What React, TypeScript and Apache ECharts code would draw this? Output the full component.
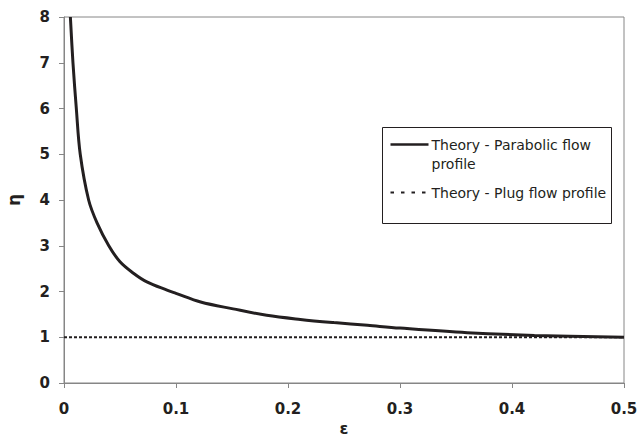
import React, { useEffect, useRef } from "react";
import * as echarts from "echarts";

const FONT = "DejaVu Sans, Verdana, sans-serif";
const TEXT = "#231f20";
const AXIS = "#868686";

const seriesNames = ["Theory - Parabolic flow profile", "Theory - Plug flow profile"];
const legendLabels = ["Theory - Parabolic flow\nprofile", "Theory - Plug flow profile"];

const epsilon = [0.0057, 0.008, 0.011, 0.0145, 0.022, 0.0295, 0.04, 0.05, 0.062, 0.074, 0.092, 0.1, 0.122, 0.151, 0.181, 0.211, 0.241, 0.271, 0.3, 0.36, 0.42, 0.5];
const etaParabolic = [8, 7, 6, 5, 4, 3.5, 3, 2.65, 2.4, 2.21, 2.03, 1.96, 1.77, 1.62, 1.48, 1.39, 1.32, 1.26, 1.2, 1.1, 1.04, 1.0];

const epsilonPlug = [0, 0.5];
const etaPlug = [1, 1];

const xTicks = { min: 0, max: 0.5, interval: 0.1 };
const yTicks = { min: 0, max: 8, interval: 1 };

export default function App() {
  const ref = useRef<HTMLDivElement>(null);

  useEffect(() => {
    if (!ref.current) return;
    const chart = echarts.init(ref.current, undefined, { renderer: "svg" });
    const labelStyle = { color: TEXT, fontFamily: FONT, fontWeight: "bold" as const, fontSize: 15 };
    chart.setOption({
      animation: false,
      backgroundColor: "#ffffff",
      grid: {
        left: 64,
        right: 16,
        top: 17,
        bottom: 55,
        show: true,
        borderColor: AXIS,
        borderWidth: 1,
        containLabel: false,
        outerBoundsMode: "none",
      },
      xAxis: {
        type: "value",
        ...xTicks,
        name: "ε",
        nameLocation: "middle",
        nameGap: 37,
        nameTextStyle: { color: TEXT, fontFamily: FONT, fontWeight: "bold", fontSize: 16, lineHeight: 16 },
        axisLine: { show: true, lineStyle: { color: AXIS, width: 1 } },
        axisTick: { show: true, length: 5, lineStyle: { color: AXIS } },
        axisLabel: { ...labelStyle, margin: 18 },
        splitLine: { show: false },
      },
      yAxis: {
        type: "value",
        ...yTicks,
        name: "η",
        nameLocation: "middle",
        nameGap: 42,
        nameRotate: 90,
        nameTextStyle: { color: TEXT, fontFamily: FONT, fontWeight: "bold", fontSize: 17 },
        axisLine: { show: true, lineStyle: { color: AXIS, width: 1 } },
        axisTick: { show: true, length: 5, lineStyle: { color: AXIS } },
        axisLabel: { ...labelStyle, margin: 14 },
        splitLine: { show: false },
      },
      series: [
        {
          name: seriesNames[0],
          type: "line",
          data: epsilon.map((e, i) => [e, etaParabolic[i]]),
          smooth: 0.35,
          showSymbol: false,
          symbol: "none",
          lineStyle: { color: TEXT, width: 3 },
          z: 3,
        },
        {
          name: seriesNames[1],
          type: "line",
          data: epsilonPlug.map((e, i) => [e, etaPlug[i]]),
          showSymbol: false,
          symbol: "none",
          lineStyle: { color: TEXT, width: 2, type: [3, 2] },
          z: 2,
        },
      ],
      graphic: [
        {
          type: "group",
          left: 382,
          top: 127,
          children: [
            { type: "rect", shape: { x: 0, y: 0, width: 229, height: 96 }, style: { fill: "#ffffff", stroke: TEXT, lineWidth: 1 } },
            { type: "line", shape: { x1: 8, y1: 17, x2: 46, y2: 17 }, style: { stroke: TEXT, lineWidth: 2.5 } },
            {
              type: "text",
              x: 49,
              y: 8,
              style: { text: legendLabels[0], fill: TEXT, fontFamily: FONT, fontSize: 14, lineHeight: 19, verticalAlign: "top" },
            },
            { type: "line", shape: { x1: 8, y1: 65, x2: 46, y2: 65 }, style: { stroke: TEXT, lineWidth: 2, lineDash: [3.5, 7] } },
            {
              type: "text",
              x: 49,
              y: 65,
              style: { text: legendLabels[1], fill: TEXT, fontFamily: FONT, fontSize: 14, verticalAlign: "middle" },
            },
          ],
        },
      ],
    });
    return () => chart.dispose();
  }, []);

  return <div ref={ref} style={{ position: "fixed", left: 0, top: 0, width: 640, height: 438 }} />;
}
